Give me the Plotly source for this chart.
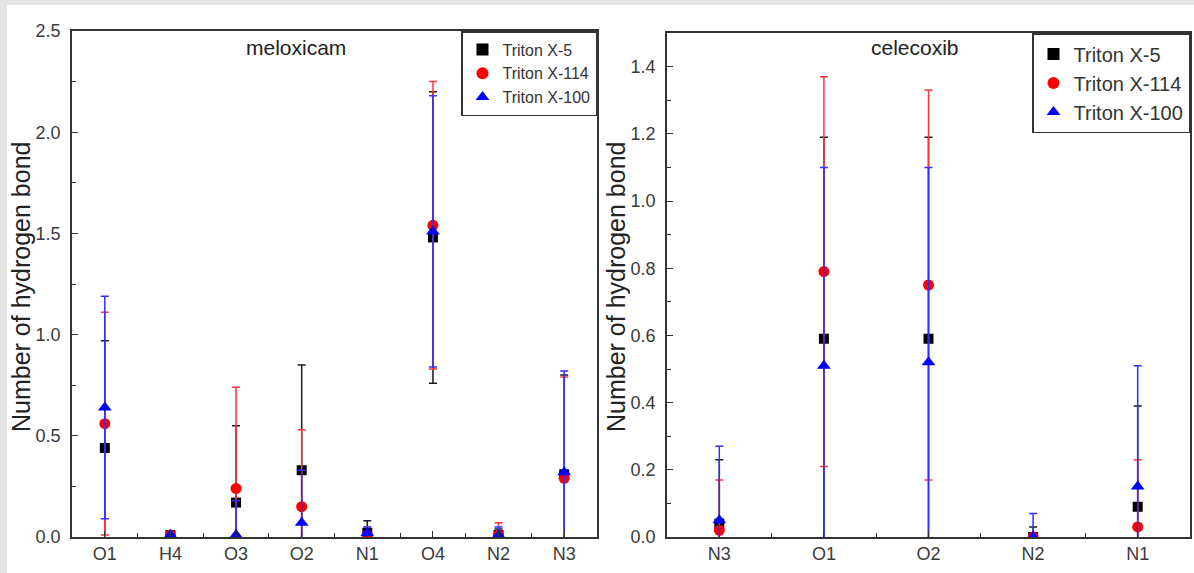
import plotly.graph_objects as go

# ---------------- data ----------------
mel_cats = ["O1", "H4", "O3", "O2", "N1", "O4", "N2", "N3"]
mel_x5 = [0.44, 0.01, 0.17, 0.33, 0.02, 1.48, 0.01, 0.31]
mel_x5_err = [0.53, 0.02, 0.38, 0.52, 0.06, 0.72, 0.03, 0.49]
mel_x114 = [0.56, 0.01, 0.24, 0.15, 0.01, 1.54, 0.01, 0.29]
mel_x114_err = [0.55, 0.01, 0.50, 0.38, 0.04, 0.71, 0.06, 0.50]
mel_x100 = [0.64, 0.01, 0.01, 0.07, 0.02, 1.51, 0.01, 0.32]
mel_x100_err = [0.55, 0.01, 0.17, 0.26, 0.03, 0.67, 0.04, 0.50]

cel_cats = ["N3", "O1", "O2", "N2", "N1"]
cel_x5 = [0.04, 0.59, 0.59, 0.00, 0.09]
cel_x5_err = [0.19, 0.60, 0.60, 0.03, 0.30]
cel_x114 = [0.02, 0.79, 0.75, 0.00, 0.03]
cel_x114_err = [0.15, 0.58, 0.58, 0.01, 0.20]
cel_x100 = [0.05, 0.51, 0.52, 0.00, 0.15]
cel_x100_err = [0.22, 0.59, 0.58, 0.07, 0.36]

series_names = ["Triton X-5", "Triton X-114", "Triton X-100"]
panel_titles = ["meloxicam", "celecoxib"]
y_title = "Number of hydrogen bond"

# ---------------- style ----------------
W, H = 1194, 573
FONT = "Liberation Sans, Arial, sans-serif"
marker_styles = [
    dict(symbol="square", color="#000000", size=10),
    dict(symbol="circle", color="#ff0000", size=11),
    dict(symbol="triangle-up", color="#0000ff", size=12),
]
err_colors = ["#1a1a1a", "#ff3535", "#2f2fff"]

def px_x(p):
    return p / W

def px_y(p):
    return 1 - p / H

fig = go.Figure()

panels = [
    (mel_cats, [(mel_x5, mel_x5_err), (mel_x114, mel_x114_err), (mel_x100, mel_x100_err)], "x", "y", "legend"),
    (cel_cats, [(cel_x5, cel_x5_err), (cel_x114, cel_x114_err), (cel_x100, cel_x100_err)], "x2", "y2", "legend2"),
]

for cats, series, xa, ya, lg in panels:
    xs = list(range(len(cats)))
    for i, (vals, errs) in enumerate(series):
        fig.add_trace(go.Scatter(
            x=xs, y=vals, mode="markers", name=series_names[i],
            xaxis=xa, yaxis=ya, legend=lg,
            marker=dict(symbol=marker_styles[i]["symbol"], color=marker_styles[i]["color"],
                        size=marker_styles[i]["size"], line=dict(width=0)),
            error_y=dict(type="data", array=errs, visible=True, color=err_colors[i],
                         thickness=1.5, width=4),
        ))

axis_common = dict(
    showline=True, linecolor="#333333", linewidth=1.5, mirror=True,
    ticks="inside", tickcolor="#333333", tickwidth=1.2, ticklen=6,
    showgrid=False, zeroline=False, automargin=False,
    tickfont=dict(family=FONT, size=18, color="#3a3a3a"),
)

fig.update_layout(
    template="none",
    width=W, height=H,
    margin=dict(l=0, r=0, t=0, b=0, pad=0, autoexpand=False),
    paper_bgcolor="white", plot_bgcolor="white",
    font=dict(family=FONT, color="#222222"),
    xaxis=dict(domain=[px_x(72), px_x(597)], anchor="y", range=[-0.5, len(mel_cats) - 0.5],
               tickvals=list(range(len(mel_cats))), ticktext=mel_cats, ticklabelstandoff=0,
               minor=dict(tickvals=[i + 0.5 for i in range(len(mel_cats) - 1)], ticks="inside",
                          ticklen=4, tickcolor="#333333"),
               **axis_common),
    yaxis=dict(domain=[px_y(537), px_y(31)], anchor="x", range=[0, 2.5], dtick=0.5, tickformat=".1f",
               ticklabelstandoff=6,
               minor=dict(dtick=0.25, ticks="inside", ticklen=4, tickcolor="#333333"),
               **axis_common),
    xaxis2=dict(domain=[px_x(667), px_x(1190)], anchor="y2", range=[-0.5, len(cel_cats) - 0.5],
                tickvals=list(range(len(cel_cats))), ticktext=cel_cats, ticklabelstandoff=0,
                minor=dict(tickvals=[i + 0.5 for i in range(len(cel_cats) - 1)], ticks="inside",
                           ticklen=4, tickcolor="#333333"),
                **axis_common),
    yaxis2=dict(domain=[px_y(537), px_y(33)], anchor="x2", range=[0, 1.5], dtick=0.2, tickformat=".1f",
                ticklabelstandoff=6,
                minor=dict(dtick=0.1, ticks="inside", ticklen=4, tickcolor="#333333"),
                **axis_common),
    legend=dict(x=px_x(597), y=px_y(31), xanchor="right", yanchor="top",
                bgcolor="white", bordercolor="#333333", borderwidth=1.5,
                font=dict(family=FONT, size=16, color="#333333"), tracegroupgap=0,
                itemsizing="constant"),
    legend2=dict(x=px_x(1190), y=px_y(33), xanchor="right", yanchor="top",
                 bgcolor="white", bordercolor="#333333", borderwidth=1.5,
                 font=dict(family=FONT, size=20, color="#333333"), tracegroupgap=0,
                 itemsizing="constant"),
    showlegend=True,
)

# panel titles and y-axis titles
fig.add_annotation(text=panel_titles[0], x=px_x(296), y=px_y(48), xref="paper", yref="paper",
                   xanchor="center", yanchor="middle",
                   showarrow=False, font=dict(family=FONT, size=21, color="#222222"))
fig.add_annotation(text=panel_titles[1], x=px_x(915), y=px_y(48), xref="paper", yref="paper",
                   xanchor="center", yanchor="middle",
                   showarrow=False, font=dict(family=FONT, size=21, color="#222222"))
fig.add_annotation(text=y_title, x=px_x(21), y=px_y(287), xref="paper", yref="paper",
                   xanchor="center", yanchor="middle",
                   textangle=-90, showarrow=False, font=dict(family=FONT, size=25, color="#222222"))
fig.add_annotation(text=y_title, x=px_x(616), y=px_y(287), xref="paper", yref="paper",
                   xanchor="center", yanchor="middle",
                   textangle=-90, showarrow=False, font=dict(family=FONT, size=25, color="#222222"))

# light grey frame strips (top and left) of the original picture
fig.add_shape(type="rect", xref="paper", yref="paper", x0=0, x1=px_x(7), y0=0, y1=1,
              fillcolor="#e4e4e4", line=dict(width=0), layer="below")
fig.add_shape(type="rect", xref="paper", yref="paper", x0=0, x1=1, y0=px_y(5), y1=1,
              fillcolor="#e4e4e4", line=dict(width=0), layer="below")

fig.write_html("out.html")
